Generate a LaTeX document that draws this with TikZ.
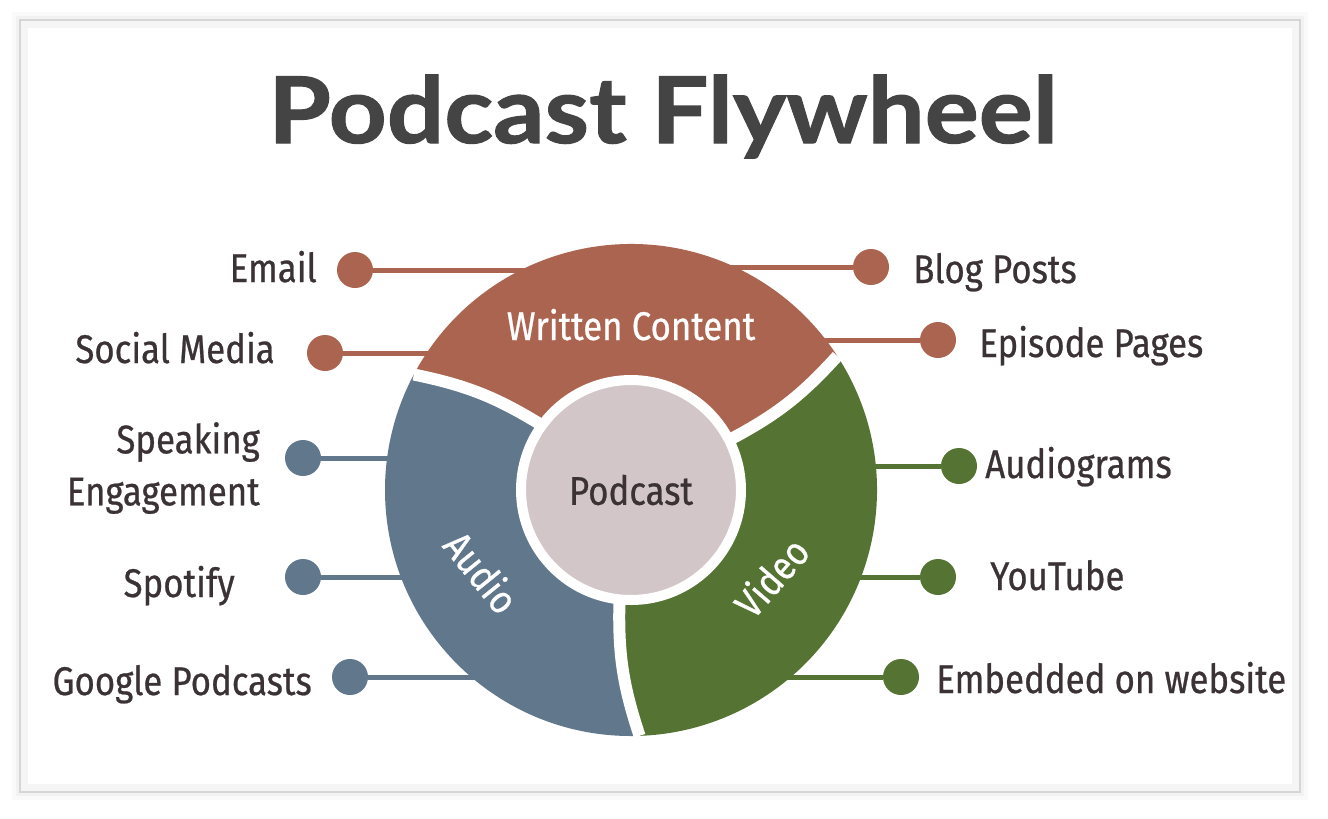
\documentclass[tikz,border=0pt]{standalone}
\usepackage{fontspec}
\usetikzlibrary{calc}
\newfontfamily\labelfont{Fira Sans}[FakeStretch=0.87, FakeBold=0.6]
\newfontfamily\titlefont{Lato}[FakeStretch=1.1, FakeBold=1.2]

\definecolor{written}{HTML}{AB6450}
\definecolor{audio}{HTML}{60778C}
\definecolor{video}{HTML}{557332}
\definecolor{hub}{HTML}{D2C6C8}
\definecolor{ink}{HTML}{3A3235}
\definecolor{heading}{HTML}{444444}

\tikzset{
  sidelabel/.style={font=\labelfont\fontsize{30}{39}\selectfont, text=ink, inner sep=0pt},
  ringlabel/.style={font=\labelfont\fontsize{30}{39}\selectfont, text=white, inner sep=0pt},
  dotnode/.style={circle, minimum size=27pt, inner sep=0pt},
  connector/.style={line width=3.75pt},
  gapline/.style={white, line width=9pt},
  hubnode/.style={circle, fill=hub, draw=white, line width=7.5pt, minimum size=165pt,
    inner sep=0pt, text=ink, font=\labelfont\fontsize{30}{39}\selectfont},
}

\begin{document}
\begin{tikzpicture}[x=0.75pt,y=-0.75pt]
\useasboundingbox (0,0) rectangle (1328,818);

% frame
\fill[black,opacity=0.02] (12,12) rectangle (1308,800);
\fill[black,opacity=0.03] (16,16) rectangle (1304,796);
\fill[white] (20,20) rectangle (1300,792);
\draw[black!4, line width=6pt] (24,24) rectangle (1296,788);
\draw[black!16, line width=1.5pt] (20,20) rectangle (1300,792);

\node[font=\titlefont\bfseries\fontsize{69}{80}\selectfont, text=heading, anchor=base] (title) at (663,143) {Podcast Flywheel};

\coordinate (c) at (631,490);

% written content
\node[dotnode, fill=written] (emailDot) at (355,270) {};
\coordinate (emailEnd) at (631,270);
\draw[connector, written] (emailDot) -- (emailEnd);
\node[sidelabel, anchor=base east] (email) at (317,282) {Email};

\node[dotnode, fill=written] (socialDot) at (325,353) {};
\coordinate (socialEnd) at (631,353);
\draw[connector, written] (socialDot) -- (socialEnd);
\node[sidelabel, anchor=base east] (social) at (275,363) {Social Media};

\node[dotnode, fill=written] (blogDot) at (871,267) {};
\coordinate (blogEnd) at (631,267);
\draw[connector, written] (blogDot) -- (blogEnd);
\node[sidelabel, anchor=base west] (blog) at (913,283) {Blog Posts};

\node[dotnode, fill=written] (episodeDot) at (938,340) {};
\coordinate (episodeEnd) at (631,340);
\draw[connector, written] (episodeDot) -- (episodeEnd);
\node[sidelabel, anchor=base west] (episode) at (979,357) {Episode Pages};

% audio
\node[dotnode, fill=audio] (speakingDot) at (303,458) {};
\coordinate (speakingEnd) at (450,458);
\draw[connector, audio] (speakingDot) -- (speakingEnd);
\node[sidelabel, anchor=east, align=right] (speaking) at (260,468) {Speaking\\Engagement};

\node[dotnode, fill=audio] (spotifyDot) at (303,577) {};
\coordinate (spotifyEnd) at (460,577);
\draw[connector, audio] (spotifyDot) -- (spotifyEnd);
\node[sidelabel, anchor=base east] (spotify) at (235,597) {Spotify};

\node[dotnode, fill=audio] (googleDot) at (350,677) {};
\coordinate (googleEnd) at (520,677);
\draw[connector, audio] (googleDot) -- (googleEnd);
\node[sidelabel, anchor=base east] (google) at (312,695) {Google Podcasts};

% video
\node[dotnode, fill=video] (audiogramsDot) at (959,466) {};
\coordinate (audiogramsEnd) at (810,466);
\draw[connector, video] (audiogramsDot) -- (audiogramsEnd);
\node[sidelabel, anchor=base west] (audiograms) at (985,478) {Audiograms};

\node[dotnode, fill=video] (youtubeDot) at (938,577) {};
\coordinate (youtubeEnd) at (800,577);
\draw[connector, video] (youtubeDot) -- (youtubeEnd);
\node[sidelabel, anchor=base west] (youtube) at (990,590) {YouTube};

\node[dotnode, fill=video] (embeddedDot) at (901,677) {};
\coordinate (embeddedEnd) at (740,677);
\draw[connector, video] (embeddedDot) -- (embeddedEnd);
\node[sidelabel, anchor=base west] (embedded) at (936,693) {Embedded on website};

% flywheel ring
\fill[written] ($(c)+(-144:110)$) to[bend right=10] ($(c)+(-152:246)$)
  arc[start angle=-152, end angle=-33, radius=246]
  to[bend left=10] ($(c)+(-27:110)$)
  arc[start angle=-27, end angle=-144, radius=110] -- cycle;
\fill[video] ($(c)+(-27:110)$) to[bend right=10] ($(c)+(-33:246)$)
  arc[start angle=-33, end angle=88, radius=246]
  to[bend left=10] ($(c)+(96:110)$)
  arc[start angle=96, end angle=-27, radius=110] -- cycle;
\fill[audio] ($(c)+(96:110)$) to[bend right=10] ($(c)+(88:246)$)
  arc[start angle=88, end angle=208, radius=246]
  to[bend left=10] ($(c)+(216:110)$)
  arc[start angle=216, end angle=96, radius=110] -- cycle;

\draw[gapline] ($(c)+(-144:110)$) to[bend right=10] ($(c)+(-152:246)$);
\draw[gapline] ($(c)+(-27:110)$) to[bend right=10] ($(c)+(-33:246)$);
\draw[gapline] ($(c)+(96:110)$) to[bend right=10] ($(c)+(88:246)$);

\node[hubnode] (hub) at (c) {Podcast};

\node[ringlabel, anchor=base] (writtenLabel) at (631,340) {Written Content};
\node[ringlabel, rotate=-51] (audioLabel) at (482,572) {Audio};
\node[ringlabel, rotate=49] (videoLabel) at (771,577) {Video};
\end{tikzpicture}
\end{document}
